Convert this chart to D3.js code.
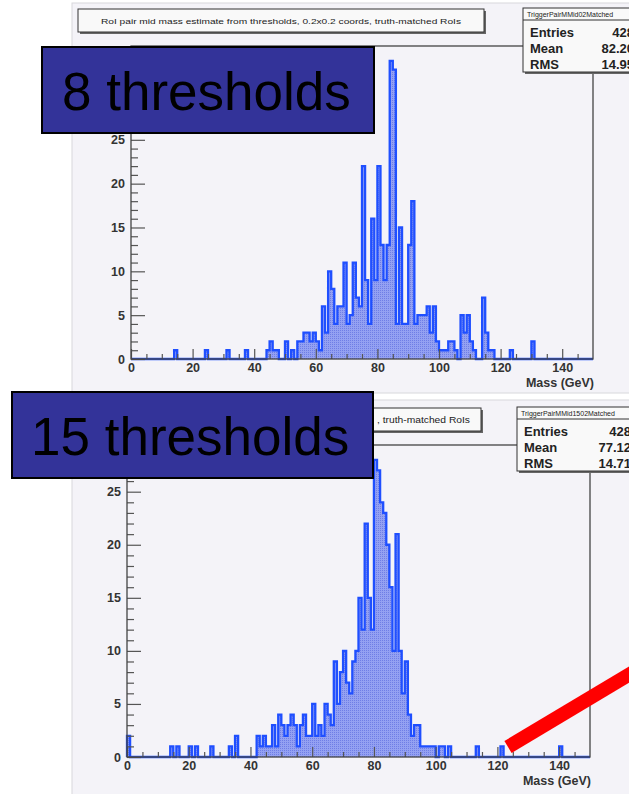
<!DOCTYPE html>
<html lang="en">
<head>
<meta charset="UTF-8">
<title>RoI pair mid mass estimate</title>
<script src="https://cdn.jsdelivr.net/npm/d3@7"></script>
<style>
  body { margin: 0; background: #fff; }
  svg { display: block; font-family: "Liberation Sans", Arial, Helvetica, sans-serif; }
  .axis text { font-weight: bold; font-size: 12.5px; fill: #333; }
  .axis line { stroke: #555; stroke-width: 1.2px; }
  .axis path { display: none; }
  .xtitle { font-weight: bold; font-size: 12.5px; fill: #333; text-anchor: end; }
  .stat { font-weight: bold; font-size: 13px; fill: #222; }
  .big { font-size: 53px; fill: #000; }
</style>
</head>
<body>
<svg id="chart" width="629" height="794"></svg>
<script>
  // 1 GeV bins, 0-150 GeV; only non-empty bins listed (low edge in GeV)
  var bins8 = [14, 24, 31, 37, 44, 45, 46, 47, 50, 52, 54, 55, 56, 57, 58, 59,
    60, 61, 62, 63, 64, 65, 66, 67, 68, 69, 70, 71, 72, 73, 74, 75, 76, 77, 78, 79,
    80, 81, 82, 83, 84, 85, 86, 87, 88, 89, 90, 91, 92, 93, 94, 95, 96, 97, 98, 99,
    100, 101, 102, 103, 104, 105, 107, 108, 109, 110, 111, 114, 115, 116, 117, 123, 130];
  var counts8 = [1, 1, 1, 1, 1, 2, 1, 1, 2, 1, 2, 2, 3, 3, 2, 3,
    2, 1, 6, 3, 10, 8, 4, 6, 6, 11, 4, 5, 11, 7, 6, 22, 9, 4, 16, 9,
    22, 13, 9, 13, 34, 33, 4, 15, 4, 4, 13, 18, 4, 5, 5, 5, 6, 3, 6, 2,
    1, 1, 1, 2, 2, 1, 5, 3, 5, 2, 1, 7, 3, 1, 1, 1, 2];

  var bins15 = [0, 14, 16, 20, 22, 27, 33, 35, 42, 43, 44, 45, 46, 47, 48, 49,
    50, 51, 52, 53, 54, 55, 56, 57, 58, 59, 60, 61, 62, 63, 64, 65, 66, 67, 68, 69,
    70, 71, 72, 73, 74, 75, 76, 77, 78, 79, 80, 81, 82, 83, 84, 85, 86, 87, 88, 89,
    90, 91, 92, 93, 94, 95, 96, 97, 98, 99, 101, 102, 104, 113, 121, 140];
  var counts15 = [2, 1, 1, 1, 1, 1, 1, 2, 2, 1, 2, 1, 1, 3, 1, 4,
    3, 2, 3, 4, 3, 1, 3, 4, 2, 2, 5, 2, 3, 2, 5, 4, 3, 9, 5, 8,
    10, 7, 6, 9, 10, 15, 12, 22, 15, 12, 28, 27, 24, 23, 20, 16, 10, 21, 10, 6,
    9, 4, 2, 3, 3, 1, 1, 1, 1, 1, 1, 1, 1, 1, 1, 1];

  var xTicks = [0, 20, 40, 60, 80, 100, 120, 140];
  var yTicks = [0, 5, 10, 15, 20, 25];
  var statNames = ['Entries', 'Mean', 'RMS'];
  var stats8 = ['428', '82.20', '14.95'];
  var stats15 = ['428', '77.12', '14.71'];
  var histTitle = 'RoI pair mid mass estimate from thresholds, 0.2x0.2 coords, truth-matched RoIs';
  var histTitleTail = ', truth-matched RoIs';

  var panels = [
    { bins: bins8, counts: counts8, stats: stats8, name: 'TriggerPairMMid02Matched', label: '8 thresholds',
      canvas: [72, 3, 640, 393], frame: { left: 131, right: 593, top: 46, bottom: 359 }, yMax: 35.7,
      titleBox: [78, 9, 484, 32], title: histTitle, statBox: [523, 8, 645, 72], valueEnd: 634,
      labelBox: [42, 47, 374, 133], labelX: 62, labelY: 110 },
    { bins: bins15, counts: counts15, stats: stats15, name: 'TriggerPairMMid1502Matched', label: '15 thresholds',
      canvas: [72, 400, 640, 800], frame: { left: 127, right: 590, top: 445, bottom: 757 }, yMax: 29.4,
      titleBox: [78, 408, 481, 431], title: histTitleTail, statBox: [517, 407, 645, 471], valueEnd: 631,
      labelBox: [12, 392, 373, 478], labelX: 31, labelY: 455 }
  ];

  var svg = d3.select('#chart');

  var defs = svg.append('defs');
  var pat = defs.append('pattern')
      .attr('id', 'dots')
      .attr('width', 2)
      .attr('height', 2)
      .attr('patternUnits', 'userSpaceOnUse');
  pat.append('rect').attr('width', 2).attr('height', 2).attr('fill', '#94a1f2');
  pat.append('rect').attr('width', 1).attr('height', 1).attr('fill', '#6f7ee6');

  function box(g, b, fill) {
    // ROOT style pave with a drop shadow
    g.append('rect')
        .attr('x', b[0] + 2).attr('y', b[1] + 2)
        .attr('width', b[2] - b[0]).attr('height', b[3] - b[1])
        .attr('fill', '#666');
    g.append('rect')
        .attr('x', b[0]).attr('y', b[1])
        .attr('width', b[2] - b[0]).attr('height', b[3] - b[1])
        .attr('fill', fill).attr('stroke', '#333').attr('stroke-width', 1);
  }

  panels.forEach(function(p) {
    var g = svg.append('g');
    var f = p.frame;

    // canvas background
    g.append('rect')
        .attr('x', p.canvas[0]).attr('y', p.canvas[1])
        .attr('width', p.canvas[2] - p.canvas[0]).attr('height', p.canvas[3] - p.canvas[1])
        .attr('fill', '#f4f3f8').attr('stroke', '#d8d8dc');

    var x = d3.scaleLinear().domain([0, 150]).range([f.left, f.right]);
    var y = d3.scaleLinear().domain([0, p.yMax]).range([f.bottom, f.top]);

    // full 150-bin histogram from the non-empty bins
    var full = d3.range(150).map(function() { return 0; });
    p.bins.forEach(function(b, i) { full[b] = p.counts[i]; });
    var pts = full.map(function(v, k) { return [k, v]; }).concat([[150, full[149]]]);

    var area = d3.area()
        .x(function(d) { return x(d[0]); })
        .y0(y(0))
        .y1(function(d) { return y(d[1]); })
        .curve(d3.curveStepAfter);

    var line = d3.line()
        .x(function(d) { return x(d[0]); })
        .y(function(d) { return y(d[1]); })
        .curve(d3.curveStepAfter);

    g.append('path')
        .datum(pts)
        .attr('d', area)
        .attr('fill', 'url(#dots)');

    g.append('path')
        .datum([[0, 0]].concat(pts, [[150, 0]]))
        .attr('d', line)
        .attr('fill', 'none')
        .attr('stroke', '#1f4fff')
        .attr('stroke-width', 2.3)
        .attr('stroke-linejoin', 'miter');

    // axes, ticks pointing into the frame
    var yMinor = d3.range(0, Math.floor(p.yMax) + 1).filter(function(v) { return v % 5 !== 0; });
    var yMajor = d3.range(0, Math.floor(p.yMax) + 1, 5);
    g.append('g').attr('class', 'axis')
        .attr('transform', 'translate(' + f.left + ',0)')
        .call(d3.axisLeft(y).tickValues(yMinor).tickSize(-7).tickFormat(''));
    g.append('g').attr('class', 'axis')
        .attr('transform', 'translate(' + f.left + ',0)')
        .call(d3.axisLeft(y).tickValues(yMajor).tickSize(-14).tickFormat(''));
    // labels above 25 sit under the slide label, so only these are drawn
    g.append('g').attr('class', 'axis')
        .attr('transform', 'translate(' + f.left + ',0)')
        .call(d3.axisLeft(y).tickValues(yTicks).tickSize(0).tickPadding(6).tickFormat(d3.format('d')));

    var xMinor = d3.range(5, 150, 5).filter(function(v) { return v % 20 !== 0; });
    g.append('g').attr('class', 'axis')
        .attr('transform', 'translate(0,' + f.bottom + ')')
        .call(d3.axisBottom(x).tickValues(xMinor).tickSize(-5).tickFormat(''));
    g.append('g').attr('class', 'axis')
        .attr('transform', 'translate(0,' + f.bottom + ')')
        .call(d3.axisBottom(x).tickValues(xTicks).tickSize(-10).tickPadding(4).tickFormat(d3.format('d')));

    // frame
    g.append('rect')
        .attr('x', f.left).attr('y', f.top)
        .attr('width', f.right - f.left).attr('height', f.bottom - f.top)
        .attr('fill', 'none').attr('stroke', '#444').attr('stroke-width', 1.3);

    g.append('text')
        .attr('class', 'xtitle')
        .attr('x', f.right + 1)
        .attr('y', f.bottom + 28)
        .text('Mass (GeV)');

    // title pave (the lower one is mostly hidden by the slide label)
    box(g, p.titleBox, '#f9f9f9');
    if (p.title === histTitle) {
      g.append('text')
          .attr('x', (p.titleBox[0] + p.titleBox[2]) / 2)
          .attr('y', p.titleBox[1] + 15)
          .attr('text-anchor', 'middle')
          .attr('font-size', 8)
          .attr('fill', '#222')
          .attr('textLength', 360)
          .attr('lengthAdjust', 'spacingAndGlyphs')
          .text(p.title);
    } else {
      g.append('text')
          .attr('x', 377)
          .attr('y', p.titleBox[1] + 15)
          .attr('font-size', 9.5)
          .attr('fill', '#222')
          .attr('textLength', 93)
          .attr('lengthAdjust', 'spacingAndGlyphs')
          .text(p.title);
    }

    // stats pave
    var sb = p.statBox;
    box(g, sb, '#f9f9f9');
    g.append('line')
        .attr('x1', sb[0]).attr('x2', sb[2])
        .attr('y1', sb[1] + 12).attr('y2', sb[1] + 12)
        .attr('stroke', '#333');
    g.append('text')
        .attr('x', sb[0] + 4)
        .attr('y', sb[1] + 9)
        .attr('font-size', 7)
        .attr('fill', '#222')
        .text(p.name);
    statNames.forEach(function(n, i) {
      var yy = sb[1] + 29 + i * 16;
      g.append('text').attr('class', 'stat').attr('x', sb[0] + 7).attr('y', yy).text(n);
      g.append('text').attr('class', 'stat').attr('x', p.valueEnd).attr('y', yy)
          .attr('text-anchor', 'end').text(p.stats[i]);
    });

    // slide label
    var lb = p.labelBox;
    g.append('rect')
        .attr('x', lb[0]).attr('y', lb[1])
        .attr('width', lb[2] - lb[0]).attr('height', lb[3] - lb[1])
        .attr('fill', '#333399').attr('stroke', '#000').attr('stroke-width', 2);
    g.append('text')
        .attr('class', 'big')
        .attr('x', p.labelX)
        .attr('y', p.labelY)
        .text(p.label);
  });

  // red annotation stroke
  svg.append('line')
      .attr('x1', 508).attr('y1', 747)
      .attr('x2', 645).attr('y2', 665)
      .attr('stroke', '#ff0000')
      .attr('stroke-width', 14);
</script>
</body>
</html>
